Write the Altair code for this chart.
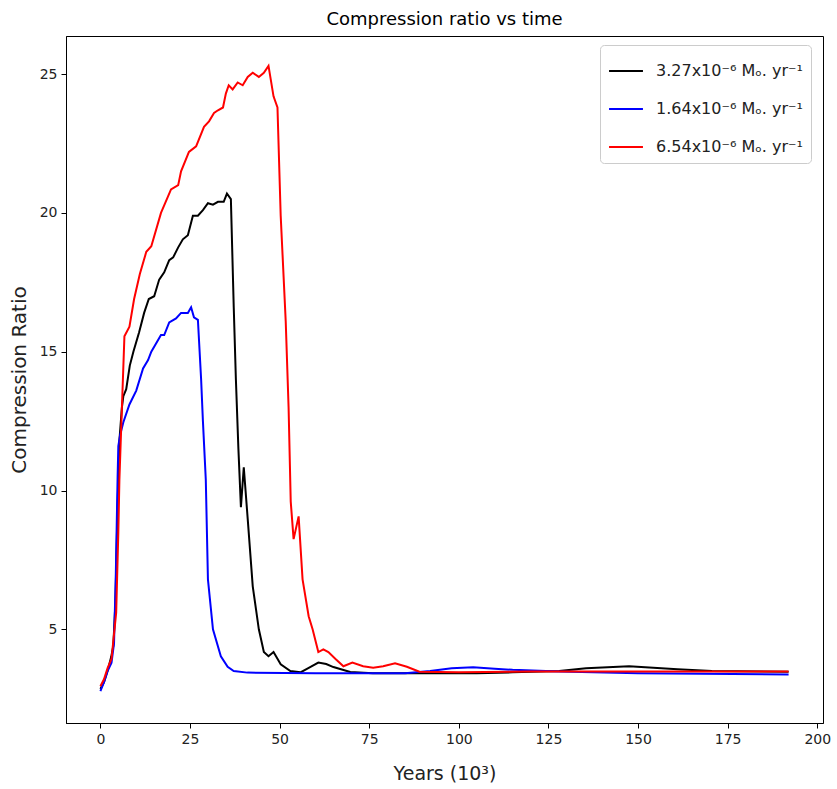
import altair as alt
import pandas as pd

# ---- data ----
black_x = [0, 1, 2, 3, 3.6, 4.2, 4.8, 5.3, 6.0, 6.4, 7.2, 8.2, 9.2, 10.8, 12.2, 13.5, 15, 16.4,
           17.8, 19.2, 20.3, 21.7, 23, 24.4, 25.8, 27.2, 28.6, 30, 31.4, 32.8, 34.4, 35.3, 36.4,
           37.2, 37.8, 38.5, 39.2, 40, 41.1, 42.5, 44.2, 45.6, 46.9, 48.3, 50.3, 53, 55.8, 58,
           60.8, 63, 65, 69.7, 76, 90, 105, 115, 128, 135.5, 147.5, 161, 170.6, 192]
black_y = [2.85, 3.1, 3.5, 4.0, 4.4, 6.0, 9.5, 11.8, 13.0, 13.4, 13.65, 14.5, 15.0, 15.7, 16.4,
           16.9, 17.0, 17.6, 17.86, 18.3, 18.4, 18.76, 19.05, 19.2, 19.9, 19.9, 20.1, 20.35, 20.3,
           20.4, 20.4, 20.7, 20.5, 16.6, 14.0, 11.5, 9.4, 10.84, 8.97, 6.55, 5.0, 4.18, 4.03,
           4.18, 3.74, 3.5, 3.45, 3.6, 3.8, 3.75, 3.64, 3.46, 3.42, 3.42, 3.42, 3.45, 3.5, 3.6,
           3.67, 3.56, 3.5, 3.47]

blue_x = [0, 1, 2, 3.1, 3.8, 4.3, 4.8, 5.0, 5.5, 6.4, 8.1, 10, 11.9, 13.3, 14.2, 16.9, 17.8,
          19.2, 21.1, 22.5, 24.4, 25.3, 26.1, 27.2, 28.1, 28.6, 29.4, 30, 31.4, 33.6, 35.5,
          37.2, 41, 60, 85, 92, 98, 104, 110, 115, 128, 150, 192]
blue_y = [2.77, 3.1, 3.5, 3.8, 4.5, 7.0, 10.5, 11.6, 12.0, 12.46, 13.1, 13.6, 14.4, 14.7, 15.0,
          15.6, 15.6, 16.06, 16.2, 16.4, 16.4, 16.6, 16.24, 16.15, 14.0, 12.5, 10.4, 6.8, 5.0,
          4.03, 3.65, 3.5, 3.44, 3.42, 3.42, 3.5, 3.6, 3.63, 3.58, 3.54, 3.48, 3.42, 3.37]

red_x = [0, 1, 2, 3.1, 4.4, 5.0, 5.3, 6.0, 6.7, 8.1, 9.4, 11, 12.8, 14.2, 16.9, 19.7, 21.7,
         22.5, 24.7, 26.7, 28.9, 30.3, 31.7, 32.8, 34.2, 35, 35.8, 36.9, 38.3, 39.7, 41.1,
         42.5, 44.2, 45.6, 46.9, 48.3, 49.4, 50.3, 51.7, 52.5, 53.1, 53.9, 55.3, 56.4, 58.1,
         59.2, 60.8, 62.2, 63.6, 65.6, 67.8, 70.3, 73.3, 76.1, 78.9, 82.2, 85.5, 89, 100,
         120, 150, 192]
red_y = [2.95, 3.2, 3.6, 3.93, 5.6, 8.5, 10.4, 13.0, 15.56, 15.9, 16.9, 17.8, 18.6, 18.8, 20.0,
         20.85, 21.0, 21.5, 22.2, 22.4, 23.1, 23.3, 23.6, 23.7, 23.8, 24.3, 24.6, 24.45, 24.7,
         24.6, 24.9, 25.05, 24.9, 25.05, 25.3, 24.2, 23.8, 19.9, 16.1, 13.0, 9.6, 8.25, 9.07,
         6.8, 5.47, 5.0, 4.18, 4.28, 4.18, 3.93, 3.67, 3.8, 3.67, 3.62, 3.67, 3.78, 3.65, 3.47,
         3.45, 3.48, 3.48, 3.48]

labels = ["3.27x10\u207b\u2076 M\u2092. yr\u207b\u00b9",
          " 1.64x10\u207b\u2076 M\u2092. yr\u207b\u00b9",
          "6.54x10\u207b\u2076 M\u2092. yr\u207b\u00b9"]
colors = ["#000000", "#0000ff", "#ff0000"]

x_ticks = [0, 25, 50, 75, 100, 125, 150, 175, 200]
y_ticks = [5, 10, 15, 20, 25]

rows = []
for i, (xs, ys) in enumerate([(black_x, black_y), (blue_x, blue_y), (red_x, red_y)]):
    for j, (a, b) in enumerate(zip(xs, ys)):
        rows.append({"years": a, "ratio": b, "series": labels[i], "order": i, "idx": j})
df = pd.DataFrame(rows)

FONT = "DejaVu Sans"
TXT = "#222222"

chart = alt.Chart(df).mark_line(strokeWidth=2, clip=True).encode(
    x=alt.X("years:Q",
            scale=alt.Scale(domain=[-9.6, 201.6], nice=False, zero=False),
            axis=alt.Axis(values=x_ticks, title="Years (10\u00b3)", grid=False,
                          labelFontSize=14, titleFontSize=19, titleFontWeight="normal",
                          tickSize=5, labelPadding=4, titlePadding=18,
                          domainColor="black", tickColor="black", labelColor=TXT,
                          titleColor=TXT, labelFont=FONT, titleFont=FONT)),
    y=alt.Y("ratio:Q",
            scale=alt.Scale(domain=[1.625, 26.375], nice=False, zero=False),
            axis=alt.Axis(values=y_ticks, title="Compression Ratio", grid=False,
                          labelFontSize=14, titleFontSize=20, titleFontWeight="normal",
                          tickSize=5, labelPadding=4, titlePadding=10,
                          domainColor="black", tickColor="black", labelColor=TXT,
                          titleColor=TXT, labelFont=FONT, titleFont=FONT)),
    color=alt.Color("series:N",
                    scale=alt.Scale(domain=labels, range=colors),
                    legend=alt.Legend(title=None, orient="none", legendX=534, legendY=9,
                                      symbolType="stroke", symbolSize=1150,
                                      symbolStrokeWidth=2, labelFontSize=16,
                                      labelFont=FONT, labelColor=TXT,
                                      rowPadding=12, padding=8, labelOffset=12,
                                      fillColor="white", strokeColor="#cccccc",
                                      cornerRadius=4)),
    detail="order:N",
    order="idx:Q",
).properties(
    width=757, height=687,
    title=alt.TitleParams("Compression ratio vs time", fontSize=18, fontWeight="normal",
                          font=FONT, color="black", offset=7),
    autosize=alt.AutoSizeParams(type="none"),
    padding={"left": 66, "top": 36, "right": 14, "bottom": 66},
    background="white",
).configure_view(stroke="black", strokeWidth=1)

chart.save("out.html", embed_options={"renderer": "svg", "actions": False})
